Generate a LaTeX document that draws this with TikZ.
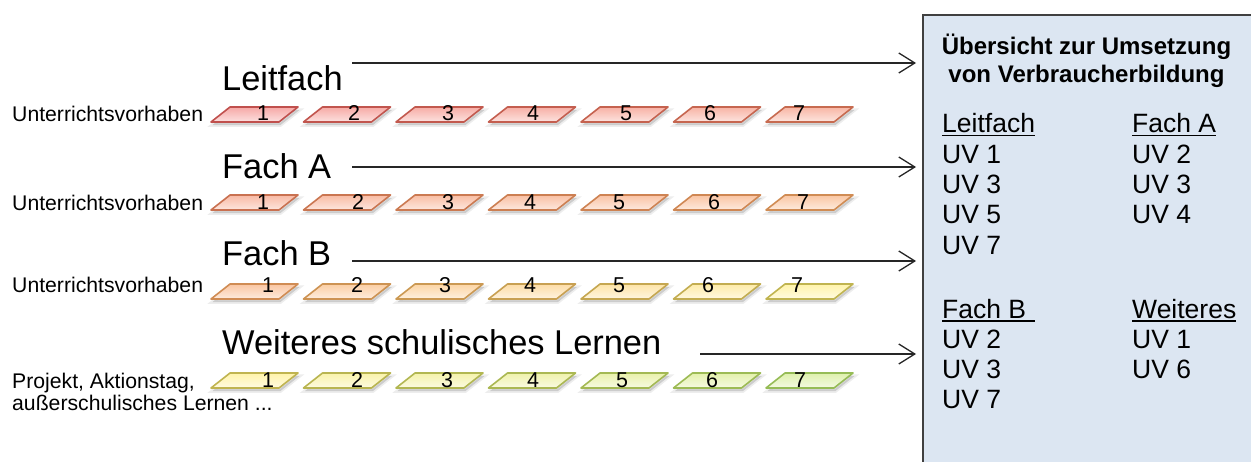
\documentclass[tikz,border=0pt]{standalone}
\usepackage{fontspec}
\setmainfont{Liberation Sans}
\usetikzlibrary{arrows.meta}
\definecolor{cR}{RGB}{192,80,77}
\definecolor{cO}{RGB}{208,140,84}
\definecolor{cY}{RGB}{192,180,80}
\definecolor{cG}{RGB}{150,188,86}
\definecolor{fR}{RGB}{246,168,166}
\definecolor{fO}{RGB}{250,198,162}
\definecolor{fY}{RGB}{255,243,170}
\definecolor{fG}{RGB}{222,240,172}
\definecolor{boxfill}{RGB}{220,230,242}
\definecolor{boxline}{RGB}{64,64,64}
\tikzset{
  big/.style={anchor=base west, inner sep=0pt, font=\fontsize{34.4}{40}\selectfont},
  small/.style={anchor=base west, inner sep=0pt, font=\fontsize{21.2}{22}\selectfont},
  num/.style={anchor=base, inner sep=0pt, font=\fontsize{21.5}{22}\selectfont},
  flow/.style={line width=1.3pt, draw=black!85, shorten >=6pt,
    -{Straight Barb[length=16pt,width=20pt]}},
  head/.style={anchor=base, inner sep=0pt, font=\fontsize{24}{28}\selectfont\bfseries},
  col/.style={anchor=base west, inner sep=0pt, font=\fontsize{26.5}{30}\selectfont},
  uline/.style={line width=1.4pt, black},
  pshadow/.style={fill=black, opacity=0.14},
  pshadowb/.style={draw=black, opacity=0.07, line width=3.5pt},
}
\begin{document}
\begin{tikzpicture}[x=1pt,y=-1pt]
\useasboundingbox (0,0) rectangle (1251,461);
\clip (0,0) rectangle (1251,461);

% overview box
\node (box) [draw=boxline, fill=boxfill, line width=1.5pt, minimum width=345pt,
  minimum height=465pt, anchor=north west, inner sep=0pt] at (922,14) {};

% headings on the left
\node (lf) [big] at (222,90) {Leitfach};
\node (fa) [big] at (222,178) {Fach A};
\node (fb) [big] at (222,265) {Fach B};
\node (ws) [big] at (222,354) {Weiteres schulisches Lernen};

% side labels
\node (u1) [small] at (12,121) {Unterrichtsvorhaben};
\node (u2) [small] at (12,210) {Unterrichtsvorhaben};
\node (u3) [small] at (12,292.5) {Unterrichtsvorhaben};
\node (p1) [small] at (12,388) {Projekt, Aktionstag,};
\node (p2) [small] at (12,410) {außerschulisches Lernen ...};

% parallelograms
\foreach \row/\yb/\ca/\cb/\fa/\fb/\nb/\xs in {
  1/122/cR/cR!55!cO/fR/fR!55!fO/120/{263,354,448,533,626,710,799},
  2/210/cR!45!cO/cO/fR!45!fO/fO/209/{263,358,448,530,619,714,803},
  3/299/cO/cY/fO/fY/292/{268,357,445,530,619,708,797},
  4/388/cY/cG/fY/fG/387/{268,357,447,533,622,712,800}}{
  \colorlet{rs}{\ca}\colorlet{re}{\cb}
  \colorlet{frs}{\fa}\colorlet{fre}{\fb}
  \foreach \k [count=\i] in {0,...,6}{
    \pgfmathtruncatemacro\p{round(\k*100/6)}
    \colorlet{ec}{re!\p!rs}
    \colorlet{fc}{fre!\p!frs}
    \pgfmathsetmacro\xb{211+92.5*\k}
    \path[pshadow] (\xb+1.5,\yb+3) -- (\xb+19+1.5,\yb-15+3) -- (\xb+87+1.5,\yb-15+3) -- (\xb+68+1.5,\yb+3) -- cycle;
    \path[pshadowb] (\xb+1.5,\yb+3) -- (\xb+19+1.5,\yb-15+3) -- (\xb+87+1.5,\yb-15+3) -- (\xb+68+1.5,\yb+3) -- cycle;
    \draw[draw=ec, line width=1.6pt, top color=fc, bottom color=fc!35!white, line join=round]
      (\xb,\yb) -- (\xb+19,\yb-15) -- (\xb+87,\yb-15) -- (\xb+68,\yb) -- cycle;
  }
  \foreach \x [count=\n] in \xs {
    \node (n\row-\n) [num] at (\x,\nb) {\n};
  }
}

% arrows
\coordinate (s1) at (352,63);
\coordinate (s2) at (352,167);
\coordinate (s3) at (352,261);
\coordinate (s4) at (700,354);
\draw[flow] (s1) -- (s1 -| box.west);
\draw[flow] (s2) -- (s2 -| box.west);
\draw[flow] (s3) -- (s3 -| box.west);
\draw[flow] (s4) -- (s4 -| box.west);

% box content
\node (h1) [head] at (1086.5,54) {Übersicht zur Umsetzung};
\node (h2) [head] at (1086.5,82) {von Verbraucherbildung};

\node (cl) [col] at (942,132.5) {Leitfach};
\node (cl1) [col] at (942,163) {UV 1};
\node (cl2) [col] at (942,193) {UV 3};
\node (cl3) [col] at (942,223.5) {UV 5};
\node (cl4) [col] at (942,254) {UV 7};

\node (ca) [col] at (1132,132.5) {Fach A};
\node (ca1) [col] at (1132,163) {UV 2};
\node (ca2) [col] at (1132,193) {UV 3};
\node (ca3) [col] at (1132,223.5) {UV 4};

\node (cb) [col] at (942,318) {Fach B};
\node (cb1) [col] at (942,348) {UV 2};
\node (cb2) [col] at (942,378) {UV 3};
\node (cb3) [col] at (942,408) {UV 7};

\node (cw) [col] at (1132,318) {Weiteres};
\node (cw1) [col] at (1132,348) {UV 1};
\node (cw2) [col] at (1132,378) {UV 6};

\draw[uline] ([yshift=-3pt]cl.base west) -- ([yshift=-3pt]cl.base east);
\draw[uline] ([yshift=-3pt]ca.base west) -- ([yshift=-3pt]ca.base east);
\draw[uline] ([yshift=-3pt]cb.base west) -- ([yshift=-3pt]cb.base west -| cl.base east);
\draw[uline] ([yshift=-3pt]cw.base west) -- ([yshift=-3pt]cw.base east);
\end{tikzpicture}
\end{document}
